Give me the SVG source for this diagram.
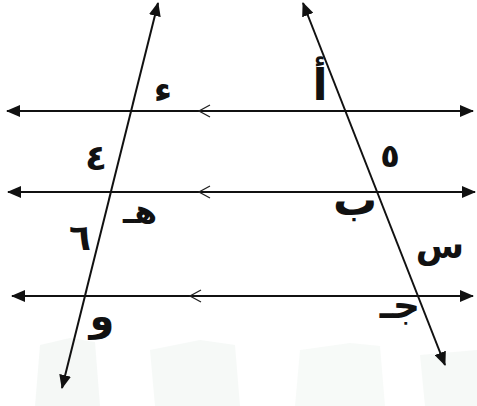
<svg xmlns="http://www.w3.org/2000/svg" width="477" height="406" viewBox="0 0 477 406">
<style>
.ln{stroke:#111;stroke-width:2;fill:none}
.chev{stroke:#222;stroke-width:1.3;fill:none}
.lb{font-family:"DejaVu Sans",sans-serif;font-weight:bold;fill:#111;text-anchor:middle}
.bg{fill:#eef4f0}
</style>
<defs>
<marker id="ah" viewBox="0 0 14 12" refX="13" refY="6" markerWidth="14" markerHeight="12" markerUnits="userSpaceOnUse" orient="auto-start-reverse">
<path d="M0,0 L14,6 L0,12 Z" fill="#111"/>
</marker>
</defs>
<rect width="477" height="406" fill="#fff"/>
<g id="background">
<path class="bg" d="M40,345 L70,338 L95,342 L100,406 L35,406 Z" opacity="0.6"/>
<path class="bg" d="M150,350 L200,340 L235,345 L240,406 L155,406 Z" opacity="0.5"/>
<path class="bg" d="M300,350 L350,343 L380,346 L385,406 L295,406 Z" opacity="0.45"/>
<path class="bg" d="M420,355 L477,350 L477,406 L425,406 Z" opacity="0.5"/>
</g>
<g id="connectors">
<line class="ln" x1="7" y1="111" x2="473" y2="111" marker-start="url(#ah)" marker-end="url(#ah)"/>
<line class="ln" x1="8" y1="192" x2="475" y2="192" marker-start="url(#ah)" marker-end="url(#ah)"/>
<line class="ln" x1="12" y1="296" x2="473" y2="296" marker-start="url(#ah)" marker-end="url(#ah)"/>
<line class="ln" x1="158" y1="3" x2="62" y2="388" marker-start="url(#ah)" marker-end="url(#ah)"/>
<line class="ln" x1="303" y1="3" x2="445" y2="365" marker-start="url(#ah)" marker-end="url(#ah)"/>
<path class="chev" d="M210,105 L199,111 L210,117"/>
<path class="chev" d="M210,186 L199,192 L210,198"/>
<path class="chev" d="M201,290 L190,296 L201,302"/>
</g>
<g id="labels">
<text class="lb" x="163" y="102" font-size="36">ء</text>
<text class="lb" x="320" y="100" font-size="44">أ</text>
<text class="lb" x="96" y="170" font-size="36">٤</text>
<text class="lb" x="390" y="167" font-size="32">٥</text>
<text class="lb" x="140" y="223" font-size="33">هـ</text>
<text class="lb" x="355" y="215" font-size="44">ب</text>
<text class="lb" x="80" y="250" font-size="36">٦</text>
<text class="lb" x="440" y="258" font-size="35">س</text>
<text class="lb" x="102" y="330" font-size="40">و</text>
<text class="lb" x="400" y="318" font-size="38">جـ</text>
</g>
</svg>
